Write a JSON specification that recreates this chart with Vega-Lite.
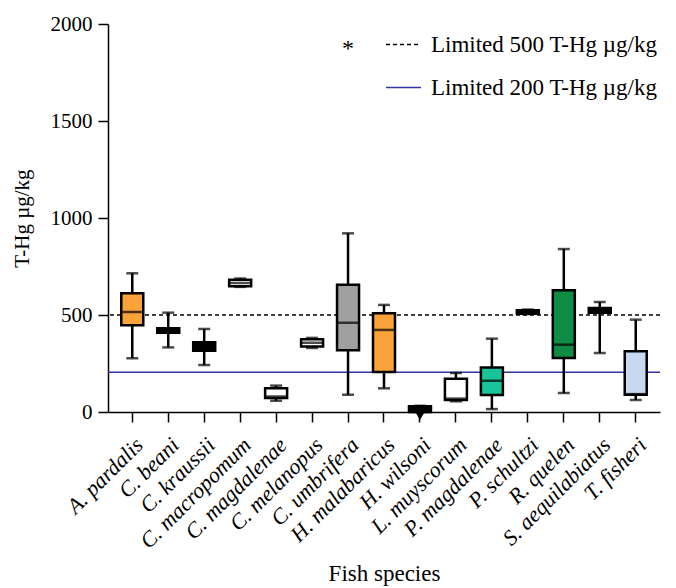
{
  "$schema": "https://vega.github.io/schema/vega-lite/v6.json",
  "width": 552,
  "height": 388,
  "autosize": "none",
  "padding": {"left": 108, "top": 24, "right": 16, "bottom": 176},
  "background": "white",
  "datasets": {
    "boxes": [
      {"species": "A. pardalis", "min": 277, "q1": 447, "median": 515, "q3": 612, "max": 715},
      {"species": "C. beani", "min": 333, "q1": 408, "median": 420, "q3": 432, "max": 512},
      {"species": "C. kraussii", "min": 242, "q1": 316, "median": 338, "q3": 360, "max": 428},
      {"species": "C. macropomum", "min": 645, "q1": 648, "median": 665, "q3": 682, "max": 688},
      {"species": "C. magdalenae", "min": 58, "q1": 72, "median": 80, "q3": 122, "max": 136},
      {"species": "C. melanopus", "min": 330, "q1": 338, "median": 357, "q3": 375, "max": 382},
      {"species": "C. umbrifera", "min": 89, "q1": 318, "median": 460, "q3": 656, "max": 921},
      {"species": "H. malabaricus", "min": 122, "q1": 206, "median": 423, "q3": 509, "max": 552},
      {"species": "H. wilsoni", "min": 0, "q1": 0, "median": 5, "q3": 30, "max": 32},
      {"species": "L. muyscorum", "min": 55, "q1": 62, "median": 69, "q3": 172, "max": 201},
      {"species": "P. magdalenae", "min": 15, "q1": 88, "median": 161, "q3": 230, "max": 378},
      {"species": "P. schultzi", "min": 505, "q1": 507, "median": 515, "q3": 525, "max": 528},
      {"species": "R. quelen", "min": 98, "q1": 278, "median": 347, "q3": 627, "max": 840},
      {"species": "S. aequilabiatus", "min": 304, "q1": 512, "median": 524, "q3": 536, "max": 567},
      {"species": "T. fisheri", "min": 62, "q1": 89, "median": 92, "q3": 313, "max": 476}
    ],
    "limits": [
      {"limit": "Limited 500 T-Hg µg/kg", "value": 500},
      {"limit": "Limited 200 T-Hg µg/kg", "value": 205}
    ],
    "outliers": [
      {"species": "H. wilsoni", "value": -20}
    ],
    "notes": [
      {"species": "C. umbrifera", "value": 1870, "label": "*"}
    ]
  },
  "config": {
    "view": {"stroke": null},
    "font": "Liberation Serif",
    "axis": {
      "domainColor": "black",
      "domainWidth": 1.5,
      "tickColor": "black",
      "tickWidth": 1.5,
      "tickSize": 10,
      "labelFont": "Liberation Serif",
      "labelFontSize": 21,
      "labelColor": "black",
      "titleFont": "Liberation Serif",
      "titleFontSize": 23,
      "titleFontWeight": "normal",
      "titleColor": "black",
      "grid": false
    },
    "legend": {
      "orient": "none",
      "legendX": 277,
      "legendY": 2,
      "symbolType": "stroke",
      "symbolSize": 1225,
      "symbolStrokeWidth": 1.5,
      "labelFont": "Liberation Serif",
      "labelFontSize": 23,
      "labelColor": "black",
      "labelOffset": 9,
      "rowPadding": 12,
      "labelLimit": 400
    }
  },
  "encoding": {
    "x": {
      "field": "species",
      "type": "nominal",
      "sort": null,
      "scale": {
        "domain": ["A. pardalis", "C. beani", "C. kraussii", "C. macropomum", "C. magdalenae", "C. melanopus", "C. umbrifera", "H. malabaricus", "H. wilsoni", "L. muyscorum", "P. magdalenae", "P. schultzi", "R. quelen", "S. aequilabiatus", "T. fisheri"],
        "paddingInner": 0.2,
        "paddingOuter": 0.275
      },
      "axis": {
        "title": "Fish species",
        "labelAngle": -45,
        "labelFont": "Liberation Serif",
        "labelFontSize": 22,
        "labelFontStyle": "italic",
        "tickSize": 10,
        "labelPadding": 12,
        "titlePadding": 11
      }
    }
  },
  "layer": [
    {
      "data": {"name": "limits"},
      "mark": {"type": "rule", "strokeWidth": 1.5},
      "encoding": {
        "x": null,
        "y": {"field": "value", "type": "quantitative"},
        "stroke": {
          "field": "limit",
          "type": "nominal",
          "scale": {"domain": ["Limited 500 T-Hg µg/kg", "Limited 200 T-Hg µg/kg"], "range": ["black", "#3434A8"]},
          "legend": {"title": null}
        },
        "strokeDash": {
          "field": "limit",
          "type": "nominal",
          "scale": {"domain": ["Limited 500 T-Hg µg/kg", "Limited 200 T-Hg µg/kg"], "range": [[4, 3], [1, 0]]},
          "legend": {"title": null}
        }
      }
    },
    {
      "data": {"name": "boxes"},
      "mark": {"type": "rule", "color": "black", "strokeWidth": 2.5},
      "encoding": {
        "y": {"field": "min", "type": "quantitative", "scale": {"domain": [0, 2000], "nice": false}, "axis": {"values": [0, 500, 1000, 1500, 2000], "format": "d", "labelFont": "Liberation Serif", "labelPadding": 6, "title": "T-Hg µg/kg", "titleFontSize": 21, "titlePadding": 18}},
        "y2": {"field": "max"}
      }
    },
    {
      "data": {"name": "boxes"},
      "mark": {"type": "tick", "color": "black", "size": 12, "thickness": 2.5},
      "encoding": {"y": {"field": "min", "type": "quantitative"}}
    },
    {
      "data": {"name": "boxes"},
      "mark": {"type": "tick", "color": "black", "size": 12, "thickness": 2.5},
      "encoding": {"y": {"field": "max", "type": "quantitative"}}
    },
    {
      "data": {"name": "boxes"},
      "mark": {"type": "bar", "width": 22, "stroke": "black", "strokeWidth": 2.5},
      "encoding": {
        "y": {"field": "q1", "type": "quantitative"},
        "y2": {"field": "q3"},
        "fill": {
          "field": "species",
          "type": "nominal",
          "scale": {
            "domain": ["A. pardalis", "C. beani", "C. kraussii", "C. macropomum", "C. magdalenae", "C. melanopus", "C. umbrifera", "H. malabaricus", "H. wilsoni", "L. muyscorum", "P. magdalenae", "P. schultzi", "R. quelen", "S. aequilabiatus", "T. fisheri"],
            "range": ["#FBA23A", "black", "black", "white", "white", "white", "#A29FA3", "#FBA23A", "black", "white", "#19C49A", "black", "#0E8C45", "black", "#C6D8F2"]
          },
          "legend": null
        }
      }
    },
    {
      "data": {"name": "boxes"},
      "mark": {"type": "tick", "color": "black", "size": 22, "thickness": 2.5},
      "encoding": {"y": {"field": "median", "type": "quantitative"}}
    },
    {
      "data": {"name": "outliers"},
      "mark": {"type": "point", "shape": "triangle-down", "filled": true, "color": "black", "size": 90, "opacity": 1},
      "encoding": {"y": {"field": "value", "type": "quantitative"}}
    },
    {
      "data": {"name": "notes"},
      "mark": {"type": "text", "fontSize": 24, "color": "black", "baseline": "middle", "font": "Liberation Serif"},
      "encoding": {"y": {"field": "value", "type": "quantitative"}, "text": {"field": "label"}}
    }
  ]
}
